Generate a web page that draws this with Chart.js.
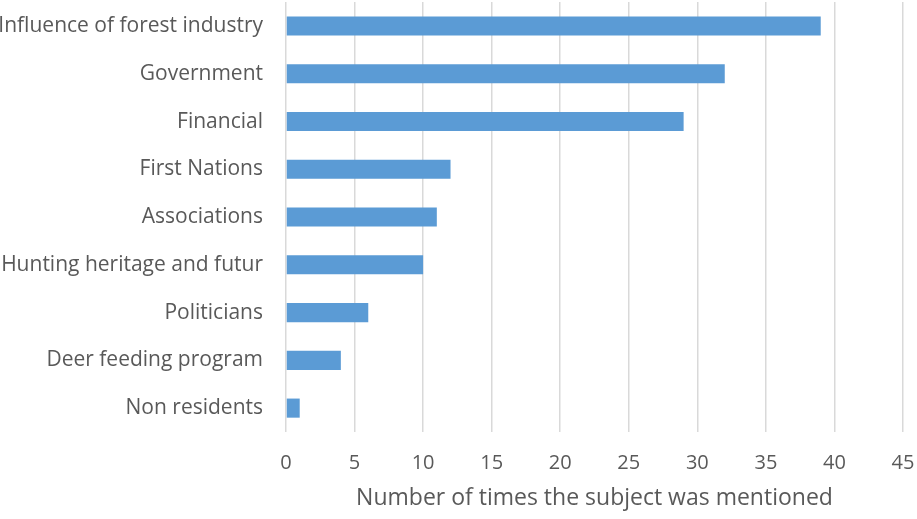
<!DOCTYPE html>
<html>
<head>
<meta charset="utf-8">
<script src="https://cdn.jsdelivr.net/npm/chart.js@4"></script>
<style>
  html, body { margin: 0; padding: 0; background: #fff; }
  .chartBox { width: 917px; height: 519px; }
</style>
</head>
<body>
<div class="chartBox">
  <canvas id="myChart"></canvas>
</div>
<script>
const categories = [
  "Influence of forest industry",
  "Government",
  "Financial",
  "First Nations",
  "Associations",
  "Hunting heritage and futur",
  "Politicians",
  "Deer feeding program",
  "Non residents"
];
const mentions = [39, 32, 29, 12, 11, 10, 6, 4, 1];
const axisTitle = "Number of times the subject was mentioned";

const textColor = "#595959";
const gridColor = "#d9d9d9";
const fontFamily = "'Open Sans', sans-serif";

const ctx = document.getElementById("myChart").getContext("2d");

const myChart = new Chart(ctx, {
  type: "bar",
  data: {
    labels: categories,
    datasets: [
      {
        data: mentions,
        backgroundColor: "#5b9bd5",
        borderWidth: 0,
        barPercentage: 0.8,
        categoryPercentage: 0.5
      }
    ]
  },
  options: {
    indexAxis: "y",
    responsive: true,
    maintainAspectRatio: false,
    animation: false,
    layout: { padding: { top: 2, right: 14, left: 0, bottom: 0 } },
    plugins: {
      legend: { display: false },
      tooltip: { enabled: false }
    },
    scales: {
      x: {
        min: 0,
        max: 45,
        ticks: {
          stepSize: 5,
          color: textColor,
          font: { family: fontFamily, size: 20 },
          padding: 0
        },
        grid: {
          color: gridColor,
          lineWidth: 1.5,
          drawTicks: true,
          tickLength: 19,
          tickColor: "rgba(0,0,0,0)"
        },
        border: { display: false },
        title: {
          display: true,
          text: axisTitle,
          color: textColor,
          font: { family: fontFamily, size: 23 },
          padding: { top: 0, bottom: 7 }
        },
        afterFit: (scale) => { scale.height = 87; }
      },
      y: {
        ticks: {
          color: textColor,
          // small lineHeight keeps the axis from reserving extra room above the first bar
          font: { family: fontFamily, size: 21, lineHeight: 0.2 },
          padding: 0
        },
        grid: { display: false, drawTicks: true, tickLength: 23 },
        border: { display: false },
        afterFit: (scale) => { scale.width = 286; }
      }
    }
  }
});
</script>
</body>
</html>
